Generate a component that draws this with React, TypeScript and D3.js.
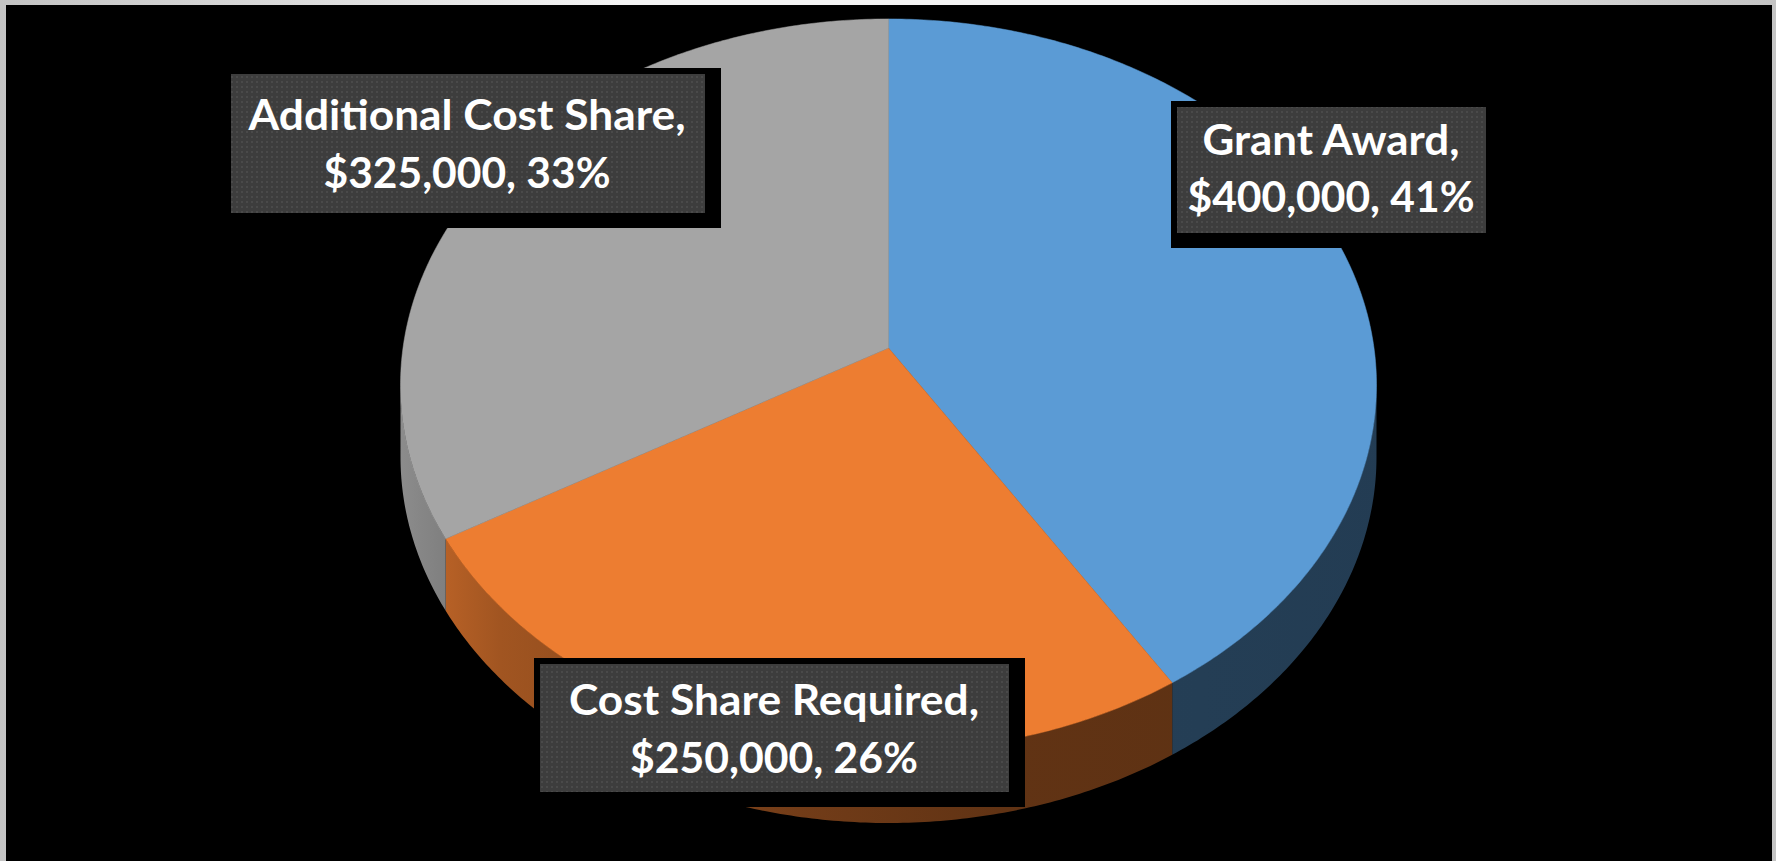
import React from "react";
import * as d3 from "d3";

// ---- data ----
const categories = ["Grant Award", "Cost Share Required", "Additional Cost Share"];
const values = [400000, 250000, 325000];
const colors = ["#5b9bd5", "#ed7d31", "#a5a5a5"];

// ---- layout ----
const W = 1776;
const H = 861;
const CX = 888.5;
const CY = 348;
const SX = 485.5;
const TY = 362.3;
const K = 0.101;
const DEPTH = 72;

// label boxes (inner rect) and line baselines
const labelLayout = [
  { x: 1177, y: 107, w: 309, h: 126, cx: 1331, b1: 155, b2: 212, l1: 257, l2: 287 },
  { x: 540, y: 664, w: 469, h: 128, cx: 774, b1: 715, b2: 773, l1: 410, l2: 288 },
  { x: 231, y: 74, w: 474, h: 139, cx: 467, b1: 130, b2: 188, l1: 437, l2: 287 },
];

function proj(a: number, yOff = 0): [number, number] {
  const X = Math.sin(a);
  const Z = -Math.cos(a);
  const w = 1 - K * Z;
  return [CX + (SX * X) / w, CY + (TY * Z) / w + yOff];
}

function arcPts(a0: number, a1: number, yOff = 0): [number, number][] {
  const n = Math.max(8, Math.ceil(Math.abs(a1 - a0) / 0.01));
  const pts: [number, number][] = [];
  for (let i = 0; i <= n; i++) pts.push(proj(a0 + ((a1 - a0) * i) / n, yOff));
  return pts;
}

const line = d3.line<[number, number]>().curve(d3.curveLinear);

// shading factor along x for the side walls
const shadeX = [400, 500, 800, 1000, 1400];
const shadeF = [0.85, 0.68, 0.48, 0.41, 0.39];

function scaleColor(c: string, f: number) {
  const rgb = d3.rgb(c);
  return d3.rgb(rgb.r * f, rgb.g * f, rgb.b * f).formatHex();
}

export default function App() {
  const total = d3.sum(values);
  const pie = d3.pie<number>().sort(null).startAngle(0).endAngle(2 * Math.PI);
  const arcs = pie(values);
  const fmtMoney = d3.format(",");
  const fmtPct = d3.format(".0%");

  const frontStart = Math.acos(-K);
  const frontEnd = 2 * Math.PI - Math.acos(-K);

  const walls = arcs
    .map((a, i) => {
      const b0 = Math.max(a.startAngle, frontStart);
      const b1 = Math.min(a.endAngle, frontEnd);
      if (b1 <= b0) return null;
      const top = arcPts(b0, b1, 0);
      const bot = arcPts(b1, b0, DEPTH);
      return { i, d: line([...top, ...bot])! + "Z" };
    })
    .filter(Boolean) as { i: number; d: string }[];

  const faces = arcs.map((a, i) => {
    const pts = [proj(0, 0), ...arcPts(a.startAngle, a.endAngle)];
    const c: [number, number] = [CX, CY];
    return { i, d: line([c, ...pts.slice(1)])! + "Z" };
  });

  return (
    <div style={{ position: "absolute", left: 0, top: 0 }}>
      <svg width={W} height={H} style={{ display: "block" }}>
        <defs>
          <linearGradient id="frame" x1="0" x2="1" y1="0" y2="0">
            <stop offset="0%" stopColor="#c4c4c4" />
            <stop offset="35%" stopColor="#f4f4f4" />
            <stop offset="65%" stopColor="#f4f4f4" />
            <stop offset="100%" stopColor="#c4c4c4" />
          </linearGradient>
          {colors.map((c, i) => (
            <linearGradient
              key={i}
              id={`wall${i}`}
              gradientUnits="userSpaceOnUse"
              x1={shadeX[0]}
              x2={shadeX[shadeX.length - 1]}
              y1={0}
              y2={0}
            >
              {shadeX.map((x, j) => (
                <stop
                  key={j}
                  offset={`${((x - shadeX[0]) / (shadeX[shadeX.length - 1] - shadeX[0])) * 100}%`}
                  stopColor={scaleColor(c, shadeF[j])}
                />
              ))}
            </linearGradient>
          ))}
          <pattern id="dots" width="5" height="5" patternUnits="userSpaceOnUse">
            <rect width="5" height="5" fill="#3d3d3d" />
            <rect x="1" y="1" width="2" height="2" fill="#4a4a4a" />
          </pattern>
        </defs>
        <rect x={0} y={0} width={W} height={H} fill="url(#frame)" />
        <rect x={6} y={5} width={W - 10} height={H - 5} fill="#000" />

        {walls.map((w) => (
          <path key={`w${w.i}`} d={w.d} fill={`url(#wall${w.i})`} />
        ))}
        {faces.map((f) => (
          <path key={`f${f.i}`} d={f.d} fill={colors[f.i]} stroke={colors[f.i]} strokeWidth={0.5} />
        ))}

        {arcs.map((a, i) => {
          const L = labelLayout[i];
          const t1 = `${categories[i]},`;
          const t2 = `$${fmtMoney(values[i])}, ${fmtPct(values[i] / total)}`;
          return (
            <g key={`l${i}`}>
              <rect x={L.x - 6} y={L.y - 6} width={L.w + 22} height={L.h + 21} fill="#000" />
              <rect x={L.x} y={L.y} width={L.w} height={L.h} fill="url(#dots)" />
              <text
                x={L.cx}
                y={L.b1}
                textAnchor="middle"
                fontFamily="Lato, 'Open Sans', sans-serif"
                fontWeight={700}
                fontSize={42}
                fill="#fff"
                textLength={L.l1}
                lengthAdjust="spacingAndGlyphs"
              >
                {t1}
              </text>
              <text
                x={L.cx}
                y={L.b2}
                textAnchor="middle"
                fontFamily="Lato, 'Open Sans', sans-serif"
                fontWeight={700}
                fontSize={42}
                fill="#fff"
                textLength={L.l2}
                lengthAdjust="spacingAndGlyphs"
              >
                {t2}
              </text>
            </g>
          );
        })}
      </svg>
    </div>
  );
}
